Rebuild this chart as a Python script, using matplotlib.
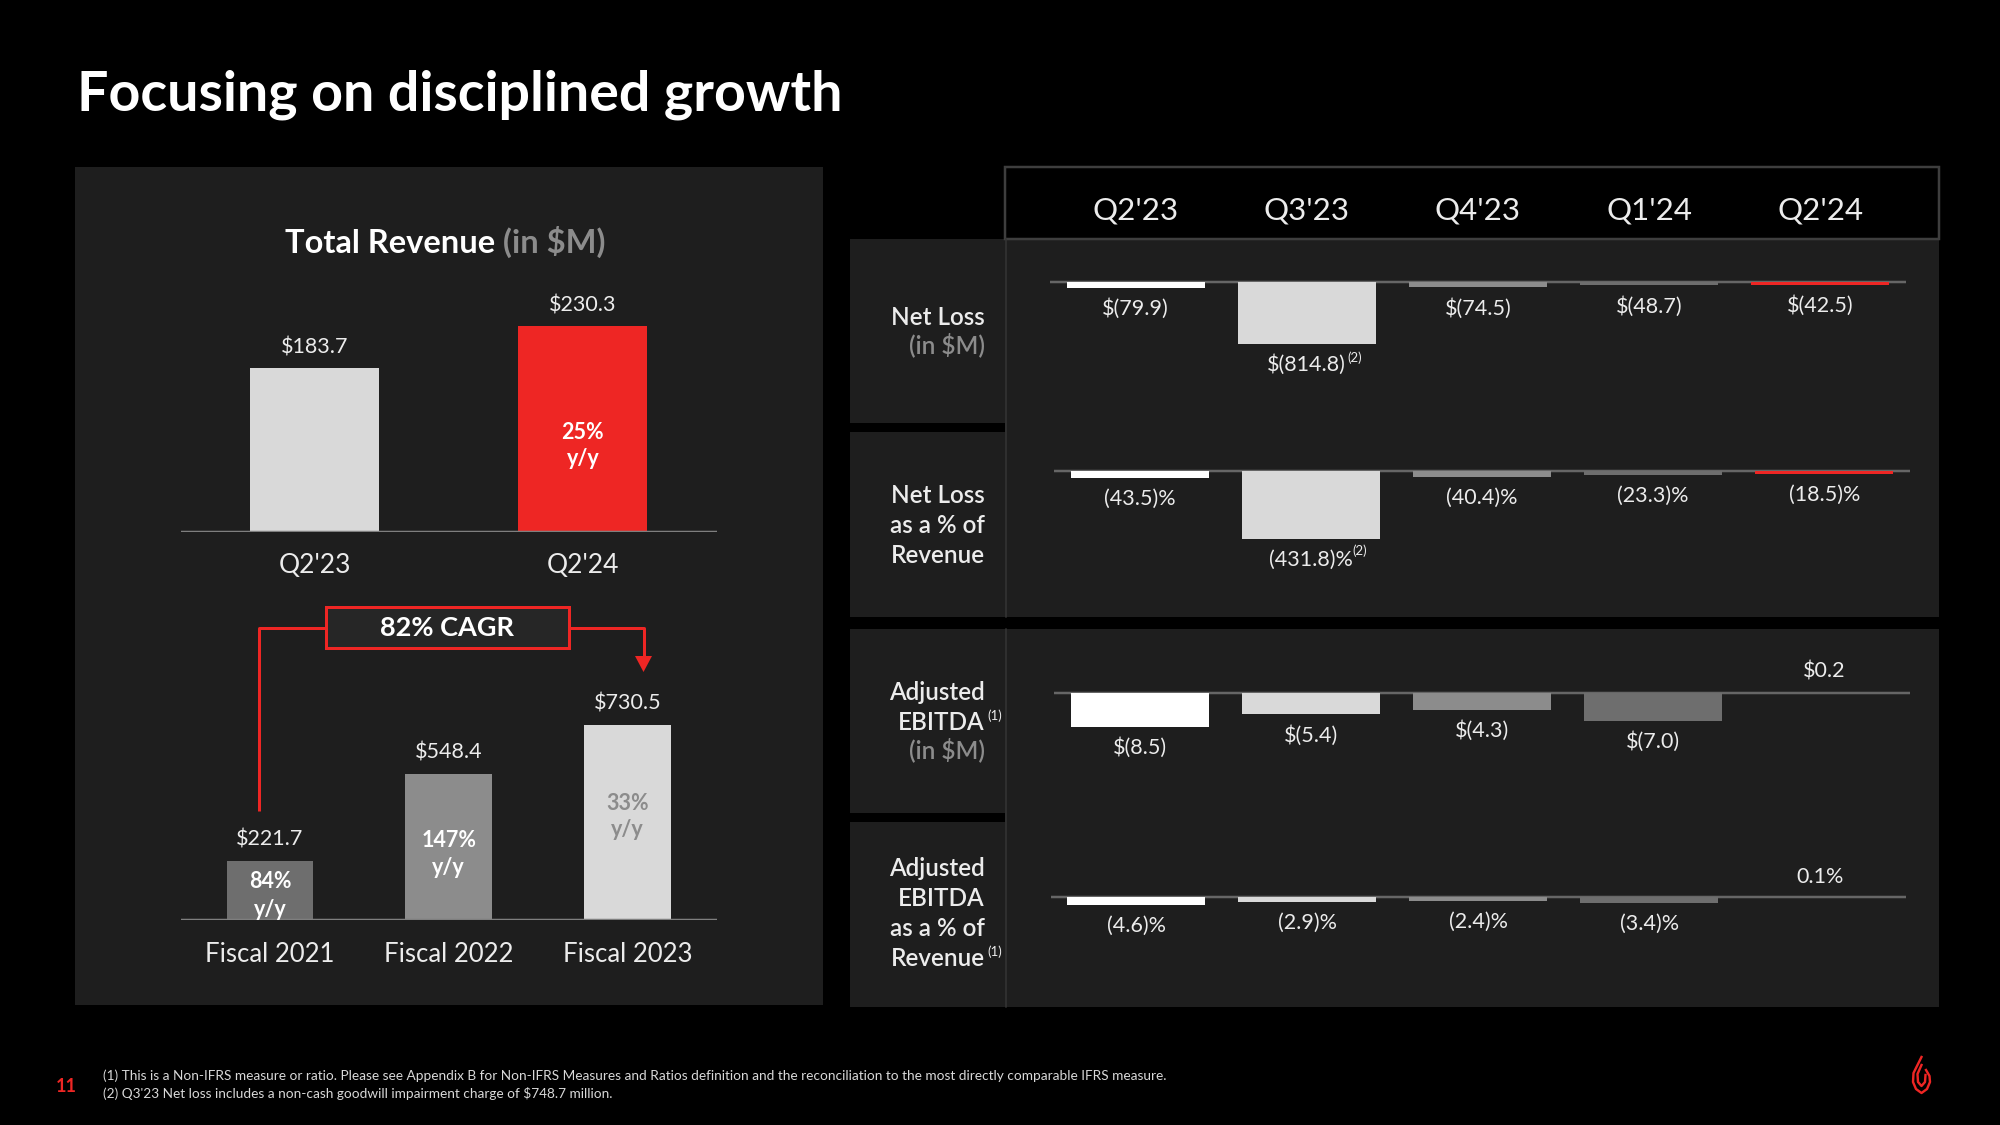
import matplotlib.pyplot as plt
from matplotlib.patches import Rectangle, Polygon
from matplotlib.transforms import blended_transform_factory

plt.rcParams['font.family'] = ['Lato', 'DejaVu Sans']

# data
rev_q_labels = ["Q2'23", "Q2'24"]
rev_q_values = [183.7, 230.3]
rev_q_growth = ["", "25%"]
rev_fy_labels = ["Fiscal 2021", "Fiscal 2022", "Fiscal 2023"]
rev_fy_values = [221.7, 548.4, 730.5]
rev_fy_growth = ["84%", "147%", "33%"]
cagr_text = "82% CAGR"

quarters = ["Q2'23", "Q3'23", "Q4'23", "Q1'24", "Q2'24"]
net_loss = [-79.9, -814.8, -74.5, -48.7, -42.5]
net_loss_pct = [-43.5, -431.8, -40.4, -23.3, -18.5]
adj_ebitda = [-8.5, -5.4, -4.3, -7.0, 0.2]
adj_ebitda_pct = [-4.6, -2.9, -2.4, -3.4, 0.1]

footnotes = [
    "(1) This is a Non-IFRS measure or ratio. Please see Appendix B for Non-IFRS Measures and Ratios "
    "definition and the reconciliation to the most directly comparable IFRS measure.",
    "(2) Q3'23 Net loss includes a non-cash goodwill impairment charge of $748.7 million.",
]

# colours
PANEL = '#1e1e1e'
RED = '#ee2624'
WHITE = '#ffffff'
LIGHT = '#d9d9d9'
MID = '#8c8c8c'
DARK = '#6e6e6e'
TXT = '#ececec'
quarter_colors = [WHITE, LIGHT, MID, DARK, RED]

W, H = 2000, 1125
PT = 0.72  # points per pixel at dpi 100

fig = plt.figure(figsize=(20, 11.25), dpi=100, facecolor='black')
bg = fig.add_axes([0, 0, 1, 1])
bg.set_xlim(0, W)
bg.set_ylim(H, 0)
bg.axis('off')


def px_ax(x0, y0, x1, y1):
    ax = fig.add_axes([x0 / W, 1 - y1 / H, (x1 - x0) / W, (y1 - y0) / H])
    ax.patch.set_visible(False)
    ax.axis('off')
    return ax


def rect(x0, y0, x1, y1, **kw):
    bg.add_patch(Rectangle((x0, y0), x1 - x0, y1 - y0, **kw))


def money(v):
    return f"$({abs(v):.1f})" if v < 0 else f"${v:.1f}"


def pct(v):
    return f"({abs(v):.1f})%" if v < 0 else f"{v:.1f}%"


# title
bg.text(77, 110, "Focusing on disciplined growth", fontsize=40, fontweight='bold',
        color=WHITE, va='baseline')

# ---------------- left panel ----------------
rect(74.5, 167, 823, 1005, facecolor=PANEL, edgecolor='none')
t1 = bg.text(285, 253, "Total Revenue", fontsize=23.5, fontweight='bold', color=WHITE, va='baseline')
bg.annotate(" (in $M)", xy=(1, 0), xycoords=t1, fontsize=23.5, fontweight='bold',
            color=MID, va='bottom', ha='left')

# quarterly revenue
ax = px_ax(180.5, 290, 717, 531.7)
ax.set_xlim(-0.5, 1.5)
ax.set_ylim(0, (531.7 - 290) / 0.892)
ax.bar(range(2), rev_q_values, width=0.48, color=[LIGHT, RED], zorder=2)
ax.axhline(0, color='#7f7f7f', lw=2.5 * PT, zorder=3)
for i, (v, lab) in enumerate(zip(rev_q_values, rev_q_labels)):
    ax.annotate(f"${v:.1f}", (i, v), xytext=(0, 14.5 * PT), textcoords='offset points',
                ha='center', va='baseline', fontsize=15.5, color=TXT)
    ax.annotate(lab, (i, 0), xytext=(0, -34 * PT), textcoords='offset points',
                ha='center', va='center', fontsize=19, color=TXT)
    if rev_q_growth[i]:
        ax.annotate(rev_q_growth[i], (i, 0), xytext=(0, 93 * PT), textcoords='offset points',
                    ha='center', va='baseline', fontsize=15.5, fontweight='bold', color=WHITE)
        ax.annotate("y/y", (i, 0), xytext=(0, 67 * PT), textcoords='offset points',
                    ha='center', va='baseline', fontsize=15.5, fontweight='bold', color=WHITE)

# fiscal revenue
ax = px_ax(180.5, 680, 717, 920)
ax.set_xlim(-0.5, 2.5)
ax.set_ylim(0, 240 / 0.267)
ax.bar(range(3), rev_fy_values, width=0.485, color=[DARK, MID, LIGHT], zorder=2)
ax.axhline(0, color='#7f7f7f', lw=2.5 * PT, zorder=3)
growth_base = [(31.5, 4.5), (73.3, 46.5), (110, 83.5)]
growth_col = [WHITE, WHITE, MID]
for i, (v, lab) in enumerate(zip(rev_fy_values, rev_fy_labels)):
    ax.annotate(f"${v:.1f}", (i, v), xytext=(0, 15 * PT), textcoords='offset points',
                ha='center', va='baseline', fontsize=15.5, color=TXT)
    ax.annotate(lab, (i, 0), xytext=(0, -34 * PT), textcoords='offset points',
                ha='center', va='center', fontsize=18.5, color=TXT)
    b1, b2 = growth_base[i]
    ax.annotate(rev_fy_growth[i], (i, 0), xytext=(0, b1 * PT), textcoords='offset points',
                ha='center', va='baseline', fontsize=15.5, fontweight='bold', color=growth_col[i])
    ax.annotate("y/y", (i, 0), xytext=(0, b2 * PT), textcoords='offset points',
                ha='center', va='baseline', fontsize=15.5, fontweight='bold', color=growth_col[i])

# CAGR callout
lw_red = 3 * PT
bg.plot([259, 259, 325.5], [811, 628, 628], color=RED, lw=lw_red, solid_capstyle='butt')
bg.plot([569, 643.5, 643.5], [628, 628, 658], color=RED, lw=lw_red, solid_capstyle='butt')
bg.add_patch(Polygon([(635, 656), (652, 656), (643.5, 672)], closed=True, facecolor=RED, edgecolor='none'))
rect(325.5, 607, 569, 648, facecolor='#262626', edgecolor=RED, lw=lw_red)
bg.text(447, 628, cagr_text, fontsize=19.5, fontweight='bold', color=WHITE, ha='center', va='center')

# ---------------- right table ----------------
for y0, y1 in [(239, 617), (629, 1006.5)]:
    rect(1005, y0, 1939, y1, facecolor=PANEL, edgecolor='none')
for y0, y1 in [(239, 423), (432, 617), (629, 813), (822, 1006.5)]:
    rect(849.5, y0, 1005, y1, facecolor=PANEL, edgecolor='none')
for y0, y1 in [(239, 617), (629, 1006.5)]:
    bg.plot([1005.5, 1005.5], [y0, y1], color='#353535', lw=1.5 * PT)
rect(1005, 167, 1939, 239, facecolor='black', edgecolor='#3e3e3e', lw=2.5 * PT)


def row_chart(x0, x1, zero, scale, top, bottom, values, fmt):
    ax = px_ax(x0, top, x1, bottom)
    ax.set_xlim(-0.5, len(values) - 0.5)
    ax.set_ylim((zero - bottom) / scale, (zero - top) / scale)
    ax.axhline(0, color='#666666', lw=2.5 * PT, zorder=1)
    for i, v in enumerate(values):
        # the tiny positive bar sits under the zero line, as in the original
        ax.bar(i, v, width=0.805, color=quarter_colors[i], zorder=2 if v < 0 else 0.5)
        off = -21 if v < 0 else 20
        ax.annotate(fmt(v), (i, v), xytext=(0, off * PT), textcoords='offset points',
                    ha='center', va='center', fontsize=15.5, color=TXT)
    return ax


ax1 = row_chart(1050, 1906, 281.5, 0.0765, 245, 420, net_loss, money)
ax1.annotate("(2)", (1, net_loss[1]), xytext=(41 * PT, -14 * PT), textcoords='offset points',
             ha='left', va='center', fontsize=9.5, color=TXT)
ax2 = row_chart(1054, 1910, 471, 0.1566, 440, 610, net_loss_pct, pct)
ax2.annotate("(2)", (1, net_loss_pct[1]), xytext=(42 * PT, -12 * PT), textcoords='offset points',
             ha='left', va='center', fontsize=9.5, color=TXT)
row_chart(1054, 1910, 692.5, 4.0, 640, 800, adj_ebitda, money)
row_chart(1050.5, 1906, 897, 1.7, 840, 990, adj_ebitda_pct, pct)

# header labels share the bar positions
hdr = blended_transform_factory(ax1.transData, bg.transData)
for i, q in enumerate(quarters):
    bg.text(i, 210, q, transform=hdr, fontsize=22.5, color=TXT, ha='center', va='center')

# row labels
row_labels = [
    [("Net Loss", 325, TXT), ("(in $M)", 353, MID)],
    [("Net Loss", 503, TXT), ("as a % of", 533, TXT), ("Revenue", 563, TXT)],
    [("Adjusted", 700, TXT), ("EBITDA", 730, TXT), ("(in $M)", 758, MID)],
    [("Adjusted", 876.5, TXT), ("EBITDA", 906.5, TXT), ("as a % of", 936.5, TXT), ("Revenue", 966.5, TXT)],
]
for group in row_labels:
    for s, yb, c in group:
        bg.text(985, yb, s, fontsize=17.5, fontweight='semibold', color=c, ha='right', va='baseline')
for yb in (716, 952):
    bg.text(987, yb, "(1)", fontsize=9.5, color=TXT, ha='left', va='center')

# footer
bg.text(56, 1086, "11", fontsize=13, fontweight='bold', color=RED, ha='left', va='center')
for k, line in enumerate(footnotes):
    bg.text(103, 1076 + 17.5 * k, line, fontsize=9.8, color='#d8d8d8', ha='left', va='center')

# logo (simple flame mark)
bg.plot([1921.5, 1913.5, 1913, 1916, 1921.5, 1927, 1930, 1929.5, 1926],
        [1057, 1073, 1082, 1089, 1093, 1089, 1082, 1076, 1070], color=RED, lw=2.4 * PT)
bg.plot([1921.5, 1917.5, 1918, 1921.5, 1925, 1925.5],
        [1065, 1074, 1082, 1086, 1082, 1075], color=RED, lw=2.4 * PT)

fig.savefig('out.png', dpi=100, facecolor='black')
